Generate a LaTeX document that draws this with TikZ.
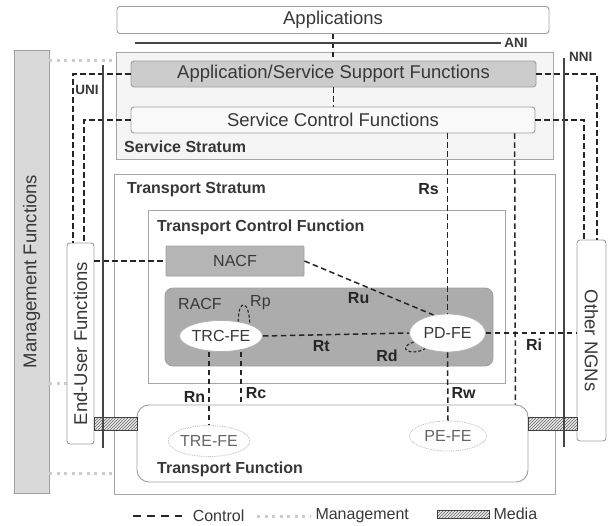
\documentclass[tikz,border=0pt]{standalone}
\usepackage{fontspec}
\setmainfont{Liberation Sans}
\usetikzlibrary{shapes.geometric,patterns}
\newcommand\bigsz{\fontsize{18.5}{20}\selectfont}
\newcommand\midsz{\fontsize{16}{18}\selectfont}
\newcommand\ifsz{\fontsize{13.5}{15}\selectfont}
\definecolor{txt}{gray}{0.22}

\begin{document}
\begin{tikzpicture}[x=1pt, y=-1pt,
	box/.style={draw=gray!75, line width=0.9pt, rounded corners=3pt, fill=white, text=txt, font=\bigsz, inner sep=0pt},
	area/.style={draw=gray!70, line width=0.9pt, fill=white, inner sep=0pt},
	fe/.style={ellipse, draw=gray!60, line width=0.8pt, fill=white, text=txt, font=\midsz, inner sep=0pt},
	tfe/.style={ellipse, draw=gray!55, line width=0.8pt, densely dotted, fill=white, text=gray!80!black, font=\midsz, inner sep=0pt},
	title/.style={anchor=west, inner sep=0pt, text=txt, font=\midsz\bfseries},
	refpt/.style={inner sep=0pt, text=gray!30!black, font=\midsz\bfseries},
	ctrl/.style={draw=black!85, line width=1.5pt, dash pattern=on 5.5pt off 3.5pt},
	mgt/.style={draw=gray!40, line width=3pt, dash pattern=on 3pt off 4.5pt},
	iface/.style={draw=gray!55!black, line width=2.8pt},
	media/.style={draw=black!75, line width=0.8pt, inner sep=0pt, preaction={fill=gray!15}, pattern=north east lines, pattern color=gray!75!black}]
	\useasboundingbox (0,0) rectangle (608,525);

	% side boxes
	\node[box, fill=gray!30, rounded corners=0pt, minimum width=35, minimum height=443] (mgmt) at (31.5,271.5) {};
	\node[rotate=90, text=txt, font=\bigsz] at (mgmt) {Management Functions};
	\node[box, minimum width=27, minimum height=201] (eu) at (80.5,343.5) {};
	\node[rotate=90, text=txt, font=\bigsz] at (eu) {End-User Functions};
	\node[box, minimum width=29, minimum height=201] (ongn) at (591.5,340.5) {};
	\node[rotate=-90, text=txt, font=\bigsz] at (ongn) {Other NGNs};

	% service stratum
	\node[box, minimum width=432, minimum height=27] (apps) at (333,20) {Applications};
	\node[area, fill=gray!8, minimum width=437, minimum height=107] (ss) at (334.5,105.5) {};
	\node[box, fill=gray!40, minimum width=405, minimum height=26] (assf) at (333.5,74) {Application/Service Support Functions};
	\node[box, fill=gray!4, minimum width=404, minimum height=26] (scf) at (333,120) {Service Control Functions};
	\node[title] at (124,147) {Service Stratum};

	% transport stratum
	\node[area, minimum width=441, minimum height=320] (ts) at (334.5,334) {};
	\node[title] at (127,190) {Transport Stratum};
	\node[area, minimum width=357, minimum height=173] (tcf) at (326.5,296.5) {};
	\node[title] at (157,227) {Transport Control Function};
	\node[box, fill=gray!58, rounded corners=1pt, font=\midsz, minimum width=138, minimum height=30] (nacf) at (235,261) {NACF};
	\node[box, fill=gray!65, rounded corners=8pt, minimum width=328, minimum height=78] (racf) at (329,327) {};
	\node[anchor=west, inner sep=0pt, text=txt, font=\midsz] at (178,304) {RACF};
	\node[fe, minimum width=78, minimum height=31] (trcfe) at (221,336) {TRC-FE};
	\node[fe, minimum width=76, minimum height=38] (pdfe) at (447.5,333) {PD-FE};
	\node[box, rounded corners=12pt, minimum width=391, minimum height=77] (tf) at (332.5,443.5) {};
	\node[title] at (157,469) {Transport Function};
	\node[tfe, minimum width=75, minimum height=31] (trefe) at (209,441) {TRE-FE};
	\node[tfe, minimum width=77, minimum height=30] (pefe) at (448,436) {PE-FE};

	% media
	\node[media, minimum width=43, minimum height=13] (medl) at (115.5,423.5) {};
	\node[media, minimum width=49, minimum height=13] (medr) at (552.5,423.5) {};

	% management
	\coordinate (mgtl) at (113,473);
	\draw[mgt] (mgmt.east |- assf.north) -- (ss.west |- assf.north);
	\draw[mgt] (mgmt.east |- tcf.south) -- (eu.west |- tcf.south);
	\draw[mgt] (mgmt.east |- mgtl) -- (mgtl);

	% control
	\draw[ctrl] (apps.south) -- (apps.south |- assf.north);
	\draw[ctrl] (assf.south) -- (assf.south |- scf.north);
	\draw[ctrl] (assf.west) -| ([xshift=-7.5pt]eu.north);
	\draw[ctrl] (scf.west) -| ([xshift=3.5pt]eu.north);
	\draw[ctrl] (assf.east) -| ([xshift=5.5pt]ongn.north);
	\draw[ctrl] (scf.east) -| ([xshift=-7.5pt]ongn.north);
	\draw[ctrl] (eu.east |- nacf.west) -- (nacf.west);
	\draw[ctrl] (nacf.east) -- (pdfe.128) node[refpt, pos=0.42, below=8pt] {Ru};
	\draw[ctrl] (scf.south -| pdfe.north) -- (pdfe.north) node[refpt, pos=0.31, left=8pt] {Rs};
	\draw[ctrl] (scf.south -| medr.west) ++(-13,0) -- ([xshift=-13pt]tf.north east);
	\draw[ctrl] (trcfe.east) -- (pdfe.west) node[refpt, pos=0.4, below=5pt] {Rt};
	\draw[ctrl] (pdfe.east) -- (pdfe.east -| ongn.west);
	\node[refpt] at (534,345) {Ri};
	\draw[ctrl] (pdfe.south) -- (pefe.north) node[refpt, pos=0.6, right=3pt] {Rw};
	\draw[ctrl] (trefe.north |- trcfe.south) -- (trefe.north) node[refpt, pos=0.62, left=3pt] {Rn};
	\draw[ctrl] ([xshift=20pt]trcfe.south) -- ([xshift=20pt]trcfe.south |- tf.north) node[refpt, pos=0.78, right=4pt] {Rc};
	\draw[ctrl, line width=1.1pt, dash pattern=on 3pt off 2pt] (trcfe.40) .. controls ([yshift=24pt]trcfe.40) and ([yshift=24pt]trcfe.22) .. (trcfe.22);
	\node[anchor=west, inner sep=0pt, text=txt, font=\midsz] at (250,303) {Rp};
	\draw[ctrl, line width=1.1pt, dash pattern=on 3pt off 2pt] (pdfe.195) .. controls +(-18,6) and +(-14,8) .. (pdfe.215);
	\node[refpt] at (387,356) {Rd};

	% interfaces
	\draw[iface] (135,43) -- (501,43) node[right=2pt, inner sep=0pt, text=txt, font=\ifsz\bfseries] {ANI};
	\draw[iface] (103,65) -- (103,448);
	\node[inner sep=0pt, text=txt, font=\ifsz\bfseries] at (87,90) {UNI};
	\draw[iface] (564,58) -- (564,447);
	\node[anchor=west, inner sep=0pt, text=txt, font=\ifsz\bfseries] at (569,57) {NNI};

	% legend
	\coordinate (lc) at (133,516);
	\coordinate (lm) at (257,516);
	\draw[ctrl, line width=1.6pt, dash pattern=on 8pt off 6pt] (lc) -- ++(49,0) node[right=10pt, inner sep=0pt, text=txt, font=\midsz] {Control};
	\draw[mgt] (lm) -- ++(54,0) node[right=3pt, inner sep=0pt, text=txt, font=\midsz] {Management};
	\node[media, minimum width=52, minimum height=8] (legm) at (463,514) {};
	\node[right=4pt, inner sep=0pt, text=txt, font=\midsz] at (legm.east) {Media};
\end{tikzpicture}
\end{document}
